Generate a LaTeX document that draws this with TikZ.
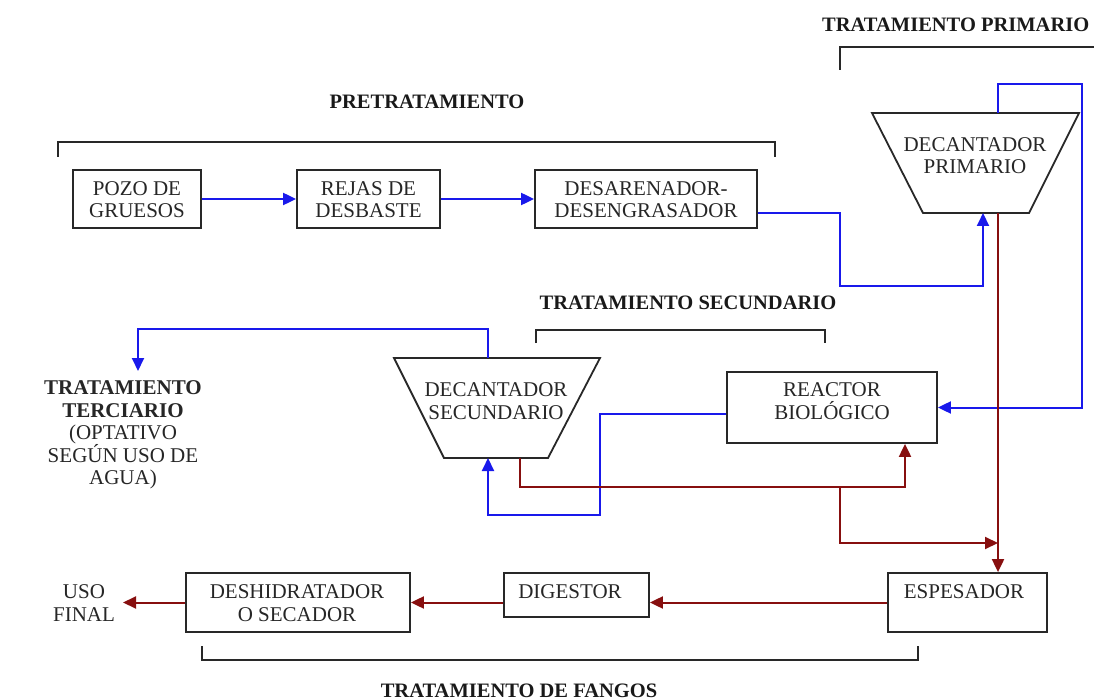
\documentclass[tikz,border=0pt]{standalone}
\usepackage{fontspec}
\setmainfont{Liberation Serif}
\usetikzlibrary{arrows.meta}
\definecolor{flowblue}{RGB}{25,25,235}
\definecolor{sludge}{RGB}{135,15,15}
\definecolor{edge}{RGB}{40,40,40}

\begin{document}
\begin{tikzpicture}[x=1pt,y=-1pt,
  box/.style={draw=edge, line width=1.8pt, inner sep=0pt},
  txt/.style={font=\fontsize{21}{22.5}\selectfont, align=center, inner sep=0pt, text=black!85},
  ttl/.style={font=\fontsize{20.5}{22.5}\selectfont\bfseries, inner sep=0pt, text=black!90},
  water/.style={draw=flowblue, line width=2pt},
  sludgeline/.style={draw=sludge, line width=2pt},
  tip/.style={-{Triangle[length=13pt,width=12pt]}},
  bracket/.style={draw=edge, line width=1.8pt}]

\useasboundingbox (0,0) rectangle (1094,700);
\clip (0,0) rectangle (1094,700);

% ---------- pretratamiento ----------
\node[ttl] (tpre) at (427,102) {PRETRATAMIENTO};
\draw[bracket] (58,157) -- (58,142) -- (775,142) -- (775,157);

\node[box, minimum width=128pt, minimum height=58pt] (pozo) at (137,199) {};
\node[txt] (pozo-t) at (137,199.5) {POZO DE\\GRUESOS};
\node[box, minimum width=143pt, minimum height=58pt] (rejas) at (368.5,199) {};
\node[txt] (rejas-t) at (368.5,199.5) {REJAS DE\\DESBASTE};
\node[box, minimum width=222pt, minimum height=58pt] (desar) at (646,199) {};
\node[txt] (desar-t) at (646,199.5) {DESARENADOR-\\DESENGRASADOR};

% ---------- tratamiento primario ----------
\node[ttl, anchor=west] (tprim) at (822,25) {TRATAMIENTO PRIMARIO};
\draw[bracket] (840,70) -- (840,47) -- (1094,47);

\coordinate (dpTL) at (872,113);
\coordinate (dpTR) at (1079,113);
\coordinate (dpBR) at (1029,213);
\coordinate (dpBL) at (923,213);
\coordinate (dpIn) at (983,213);
\coordinate (dpOut) at (998,213);
\coordinate (dpTop) at (998,113);
\draw[box] (dpTL) -- (dpTR) -- (dpBR) -- (dpBL) -- cycle;
\node[txt] (dp-t) at (975,155.5) {DECANTADOR\\PRIMARIO};

% ---------- tratamiento secundario ----------
\node[ttl] (tsec) at (688,303) {TRATAMIENTO SECUNDARIO};
\draw[bracket] (536,343) -- (536,330) -- (825,330) -- (825,343);

\coordinate (dsTL) at (394,358);
\coordinate (dsTR) at (600,358);
\coordinate (dsBR) at (548,458);
\coordinate (dsBL) at (444,458);
\coordinate (dsTop) at (488,358);
\coordinate (dsIn) at (488,458);
\coordinate (dsOut) at (520,458);
\draw[box] (dsTL) -- (dsTR) -- (dsBR) -- (dsBL) -- cycle;
\node[txt] (ds-t) at (496,401) {DECANTADOR\\SECUNDARIO};

\node[box, minimum width=210pt, minimum height=71pt] (reactor) at (832,407.5) {};
\node[txt] (reactor-t) at (832,401) {REACTOR\\BIOLÓGICO};

% ---------- tratamiento terciario ----------
\node[txt] (terc) at (123,435) {\textbf{TRATAMIENTO}\\\textbf{TERCIARIO}\\(OPTATIVO\\SEGÚN USO DE\\AGUA)};
\coordinate (tercIn) at (138,371);

% ---------- tratamiento de fangos ----------
\node[box, minimum width=159pt, minimum height=59pt] (espes) at (967.5,602.5) {};
\node[txt] (espes-t) at (964,592) {ESPESADOR};
\node[box, minimum width=145pt, minimum height=44pt] (digest) at (576.5,595) {};
\node[txt] (digest-t) at (570,592) {DIGESTOR};
\node[box, minimum width=224pt, minimum height=59pt] (deshid) at (298,602.5) {};
\node[txt] (deshid-t) at (297,603) {DESHIDRATADOR\\O SECADOR};
\node[txt] (uso) at (84,603) {USO\\FINAL};
\coordinate (usoIn) at (123,602.5);

\draw[bracket] (202,646) -- (202,660) -- (918,660) -- (918,646);
\node[ttl] (tfan) at (519,691) {TRATAMIENTO DE FANGOS};

% ---------- water line (blue) ----------
\draw[water, tip] (pozo.east) -- (rejas.west);
\draw[water, tip] (rejas.east) -- (desar.west);
\draw[water, tip] ([yshift=-14pt]desar.east) -- (840,213) -- (840,286) -- (983,286) -- (dpIn);
\draw[water, tip] (dpTop) -- (998,84) -- (1082,84) -- (1082,407.5) -- (reactor.east);
\draw[water, tip] ([yshift=-6.5pt]reactor.west) -- (600,414) -- (600,515) -- (488,515) -- (dsIn);
\draw[water, tip] (dsTop) -- (488,329) -- (138,329) -- (tercIn);

% ---------- sludge line (red) ----------
\coordinate (joinPt) at (998,543);
\draw[sludgeline, tip] (dsOut) -- (520,487) -- (905,487) -- (905,0 |- reactor.south);
\draw[sludgeline, tip] (840,487) -- (840,543) -- (joinPt);
\draw[sludgeline, tip] (dpOut) -- (dpOut |- espes.north);
\draw[sludgeline, tip] (espes.west) -- (espes.west -| digest.east);
\draw[sludgeline, tip] (digest.west |- espes.west) -- (deshid.east);
\draw[sludgeline, tip] (deshid.west) -- (usoIn);

\end{tikzpicture}
\end{document}
